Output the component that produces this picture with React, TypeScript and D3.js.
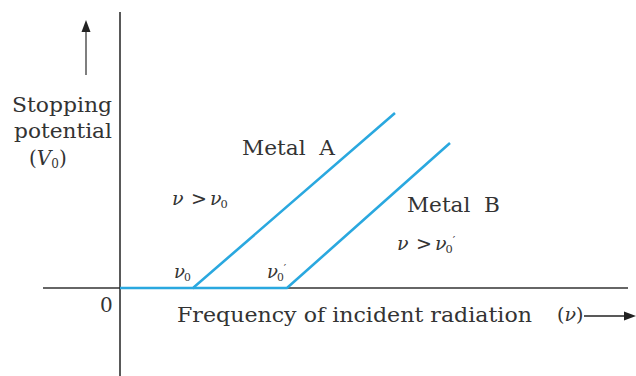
import React from "react";
import * as d3 from "d3";

// stopping potential vs frequency, two metals (units: arbitrary)
const thresholds = [1.46, 3.34]; // ν0, ν0'
const metalA = [
  { f: 0, v: 0 },
  { f: 1.46, v: 0 },
  { f: 5.5, v: 3.5 },
];
const metalB = [
  { f: 1.46, v: 0 },
  { f: 3.34, v: 0 },
  { f: 6.6, v: 2.9 },
];
const seriesNames = ["Metal\u00a0\u00a0A", "Metal\u00a0\u00a0B"];

const W = 636;
const H = 376;
const BLUE = "#2aa8df";
const INK = "#333";
const FONT = "'DejaVu Serif', serif";

const x = d3.scaleLinear().domain([0, 10]).range([120, 620]);
const y = d3.scaleLinear().domain([0, 5]).range([288, 38]);

const line = d3
  .line<{ f: number; v: number }>()
  .x((d) => x(d.f))
  .y((d) => y(d.v));

// "ν0" (optionally ν0′, optionally prefixed with "ν > ") in one text element
const NuLabel = ({ x0, y0, size, prime = false, cond = false }: {
  x0: number; y0: number; size: number; prime?: boolean; cond?: boolean;
}) => {
  const off = cond ? size * 2.0 : 0;
  const nx = x0 + off;
  return (
    <text x={x0} y={y0} fontSize={size}>
      {cond && (
        <>
          <tspan fontStyle="italic">ν</tspan>
          <tspan x={x0 + size * 1.0}>&gt;</tspan>
        </>
      )}
      <tspan x={nx} fontStyle="italic">ν</tspan>
      <tspan x={nx + size * 0.55} dy={3} fontSize={size * 0.6}>0</tspan>
      {prime && (
        <tspan dy={-size * 0.5} fontSize={size * 0.6}>′</tspan>
      )}
    </text>
  );
};

export default function App() {
  const T = (props: any) => <text lengthAdjust="spacingAndGlyphs" {...props} />;
  return (
    <svg
      width={W}
      height={H}
      style={{ position: "absolute", left: 0, top: 0, background: "#fff" }}
      fontFamily={FONT}
      fill={INK}
    >
      {/* axes */}
      <line x1={43} x2={628} y1={y(0)} y2={y(0)} stroke="#666" strokeWidth={2} />
      <line x1={x(0)} x2={x(0)} y1={12} y2={H} stroke="#222" strokeWidth={1.5} />

      {/* curves */}
      <path d={line(metalA) || ""} fill="none" stroke={BLUE} strokeWidth={2.6} />
      <path d={line(metalB) || ""} fill="none" stroke={BLUE} strokeWidth={2.6} />

      {/* y label + arrow */}
      <line x1={86} x2={86} y1={75} y2={30} stroke="#555" strokeWidth={1.5} />
      <path d="M86,20 L81.5,32 L90.5,32 Z" fill="#222" />
      <T x={12} y={112} fontSize={20} textLength={100}>Stopping</T>
      <T x={14} y={138} fontSize={20} textLength={98}>potential</T>
      <text x={29} y={165} fontSize={20}>
        (<tspan fontStyle="italic">V</tspan>
        <tspan fontSize={12} dy={3}>0</tspan>
        <tspan dy={-3}>)</tspan>
      </text>

      {/* series labels */}
      <T x={242} y={155} fontSize={20} textLength={93}>{seriesNames[0]}</T>
      <NuLabel x0={172} y0={205} size={19} cond />
      <T x={407} y={212} fontSize={20} textLength={93}>{seriesNames[1]}</T>
      <NuLabel x0={397} y0={250} size={19} cond prime />

      {/* thresholds */}
      <NuLabel x0={x(thresholds[0]) - 19} y0={278} size={18} />
      <NuLabel x0={x(thresholds[1]) - 20} y0={278} size={18} prime />

      {/* origin + x label */}
      <text x={100} y={312} fontSize={20}>0</text>
      <T x={177} y={322} fontSize={20} textLength={355}>Frequency of incident radiation</T>
      <text x={557} y={321} fontSize={19}>
        (<tspan fontStyle="italic">ν</tspan>)
      </text>
      <line x1={584} x2={628} y1={316} y2={316} stroke="#222" strokeWidth={1.5} />
      <path d="M636,316 L624,311.5 L624,320.5 Z" fill="#222" />
    </svg>
  );
}
